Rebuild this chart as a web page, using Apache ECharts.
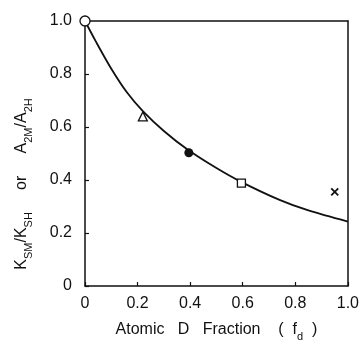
<!DOCTYPE html>
<html>
<head>
<meta charset="utf-8">
<script src="https://cdn.jsdelivr.net/npm/echarts@6/dist/echarts.min.js"></script>
<style>
html,body{margin:0;padding:0;background:#fff;}
#c{width:362px;height:347px;}
</style>
</head>
<body>
<div id="c"></div>
<script>
// Fitted curve
const curveX = [0, 0.04, 0.10, 0.16, 0.22, 0.30, 0.39, 0.50, 0.59, 0.74, 0.85, 1.0];
const curveY = [1.0, 0.925, 0.82, 0.73, 0.66, 0.585, 0.515, 0.445, 0.395, 0.325, 0.285, 0.243];
// Measured points
const openCircle = [[0, 1.0]];
const triangle = [[0.22, 0.64]];
const filledCircle = [[0.395, 0.503]];
const square = [[0.595, 0.388]];
const cross = [[0.95, 0.355]];
// Tick values
const xTicks = [0, 0.2, 0.4, 0.6, 0.8, 1.0];
const yTicks = [0, 0.2, 0.4, 0.6, 0.8, 1.0];

const FONT = '"Liberation Sans", Arial, sans-serif';
const INK = '#111';
const chart = echarts.init(document.getElementById('c'), null, {renderer: 'canvas'});
const fmt = v => (Math.abs(v) < 1e-9 ? '0' : v.toFixed(1));

const axisCommon = {
  type: 'value', min: 0, max: 1, interval: 0.2,
  splitLine: {show: false},
  axisLine: {show: true, onZero: false, lineStyle: {color: INK, width: 1.5}},
};

chart.setOption({
  animation: false,
  backgroundColor: '#fff',
  grid: {left: 85, right: 14, top: 21, bottom: 61},
  xAxis: [
    Object.assign({}, axisCommon, {
      position: 'bottom',
      axisTick: {show: true, inside: true, length: 4, lineStyle: {color: INK, width: 1.2}},
      axisLabel: {color: INK, fontFamily: FONT, fontSize: 16, margin: 10, formatter: fmt,
        customValues: xTicks},
      name: '{t|Atomic   D   Fraction    (  f}{s|d}{t|  )}',
      nameLocation: 'middle', nameGap: 34,
      nameTextStyle: {
        rich: {
          t: {fontFamily: FONT, fontSize: 16, color: INK, lineHeight: 20},
          s: {fontFamily: FONT, fontSize: 11, color: INK, lineHeight: 12, verticalAlign: 'bottom', padding: [0, 0, -2, 0]}
        }
      }
    }),
    Object.assign({}, axisCommon, {
      position: 'top',
      axisTick: {show: false}, axisLabel: {show: false}
    })
  ],
  yAxis: [
    Object.assign({}, axisCommon, {
      position: 'left',
      axisTick: {show: true, inside: true, length: 4, lineStyle: {color: INK, width: 1.2}},
      axisLabel: {color: INK, fontFamily: FONT, fontSize: 16, margin: 13, formatter: fmt,
        customValues: yTicks}
    }),
    Object.assign({}, axisCommon, {
      position: 'right',
      axisTick: {show: false}, axisLabel: {show: false}
    })
  ],
  graphic: [{
    type: 'text',
    x: 22, y: 184,
    rotation: Math.PI / 2,
    style: {
      text: '{n|K}{s|SM}{n|/K}{s|SH}{n|     or     A}{s|2M}{n|/A}{s|2H}',
      align: 'center', verticalAlign: 'middle',
      rich: {
        n: {fontFamily: FONT, fontSize: 16, fill: INK, lineHeight: 20},
        s: {fontFamily: FONT, fontSize: 11, fill: INK, lineHeight: 12, verticalAlign: 'bottom', padding: [0, 0, -2, 0]}
      }
    }
  }],
  series: [
    {
      type: 'line', data: curveX.map((x, i) => [x, curveY[i]]),
      smooth: 0.3, showSymbol: false, symbol: 'none',
      lineStyle: {color: INK, width: 1.8}, z: 3
    },
    {
      type: 'scatter', data: openCircle, symbol: 'circle', symbolSize: 10,
      itemStyle: {color: '#fff', borderColor: INK, borderWidth: 1.3, opacity: 1}, clip: false, z: 10
    },
    {
      type: 'scatter', data: triangle, symbol: 'triangle', symbolSize: 9,
      itemStyle: {color: '#fff', borderColor: INK, borderWidth: 1.3, opacity: 1}, z: 10
    },
    {
      type: 'scatter', data: filledCircle, symbol: 'circle', symbolSize: 9,
      itemStyle: {color: INK, opacity: 1}, z: 10
    },
    {
      type: 'scatter', data: square, symbol: 'rect', symbolSize: 8,
      itemStyle: {color: '#fff', borderColor: INK, borderWidth: 1.3, opacity: 1}, z: 10
    },
    {
      type: 'scatter', data: cross, symbol: 'path://M0,0L10,10M10,0L0,10', symbolSize: 7,
      itemStyle: {color: 'none', borderColor: INK, borderWidth: 1.8, opacity: 1}, z: 10
    }
  ]
});
</script>
</body>
</html>
